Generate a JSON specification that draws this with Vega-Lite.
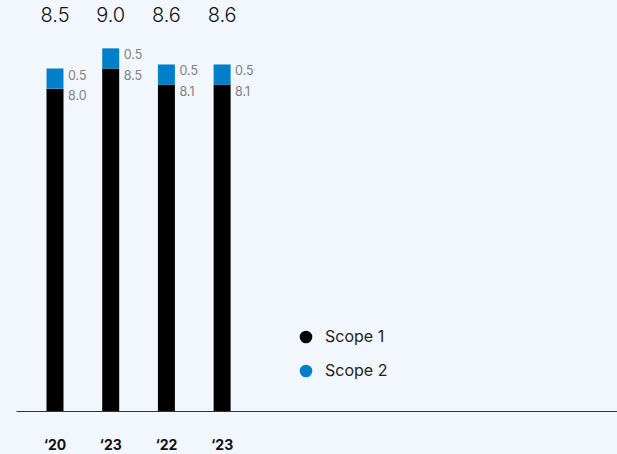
{
  "$schema": "https://vega.github.io/schema/vega-lite/v6.json",
  "width": 601,
  "height": 411,
  "autosize": {"type": "none"},
  "padding": {"left": 16, "top": 0, "right": 0, "bottom": 43},
  "background": "#f2f7fe",
  "config": {
    "view": {"stroke": null},
    "font": "Inter"
  },
  "data": {
    "values": [
      {"cat": "‘20", "scope": "Scope 1", "order": 1, "value": 8.0},
      {"cat": "‘20", "scope": "Scope 2", "order": 2, "value": 0.5},
      {"cat": "‘23", "scope": "Scope 1", "order": 1, "value": 8.5},
      {"cat": "‘23", "scope": "Scope 2", "order": 2, "value": 0.5},
      {"cat": "‘22", "scope": "Scope 1", "order": 1, "value": 8.1},
      {"cat": "‘22", "scope": "Scope 2", "order": 2, "value": 0.5},
      {"cat": "‘23 ", "scope": "Scope 1", "order": 1, "value": 8.1},
      {"cat": "‘23 ", "scope": "Scope 2", "order": 2, "value": 0.5}
    ]
  },
  "transform": [
    {"stack": "value", "groupby": ["cat"], "sort": [{"field": "order"}], "as": ["v0", "v1"]}
  ],
  "encoding": {
    "x": {
      "field": "cat",
      "type": "nominal",
      "sort": null,
      "scale": {
        "domain": ["‘20", "‘23", "‘22", "‘23 ", "e1", "e2", "e3", "e4", "e5", "e6"],
        "paddingInner": 0.695,
        "paddingOuter": 0.742,
        "align": 0.369
      },
      "axis": {
        "title": null,
        "values": ["‘20", "‘23", "‘22", "‘23 "],
        "labelAngle": 0,
        "ticks": false,
        "domainColor": "#333333",
        "domainWidth": 1,
        "labelFont": "Inter",
        "labelFontSize": 14,
        "labelFontWeight": "bold",
        "labelColor": "#111111",
        "labelPadding": 27
      }
    }
  },
  "layer": [
    {
      "mark": {"type": "bar"},
      "encoding": {
        "y": {
          "field": "v1",
          "type": "quantitative",
          "scale": {"domain": [0, 10.2], "nice": false, "zero": true},
          "axis": null
        },
        "y2": {"field": "v0"},
        "color": {
          "field": "scope",
          "type": "nominal",
          "scale": {"domain": ["Scope 1", "Scope 2"], "range": ["#000000", "#0080c8"]},
          "legend": {
            "title": null,
            "orient": "none",
            "legendX": 282,
            "legendY": 329,
            "symbolType": "circle",
            "symbolSize": 160,
            "symbolStrokeWidth": 0,
            "labelFont": "Inter",
            "labelFontSize": 16,
            "labelColor": "#222222",
            "labelOffset": 11,
            "rowPadding": 18
          }
        }
      }
    },
    {
      "mark": {"type": "text", "align": "left", "baseline": "top", "dx": 13, "dy": 1, "fontSize": 12.5, "color": "#808080"},
      "encoding": {
        "y": {"field": "v1", "type": "quantitative"},
        "text": {"field": "value", "type": "quantitative", "format": ".1f"}
      }
    },
    {
      "mark": {"type": "text", "align": "center", "baseline": "middle", "fontSize": 20, "fontWeight": 300, "color": "#111111"},
      "encoding": {
        "y": {"datum": 9.8, "type": "quantitative"},
        "text": {"aggregate": "sum", "field": "value", "type": "quantitative", "format": ".1f"}
      }
    }
  ]
}
